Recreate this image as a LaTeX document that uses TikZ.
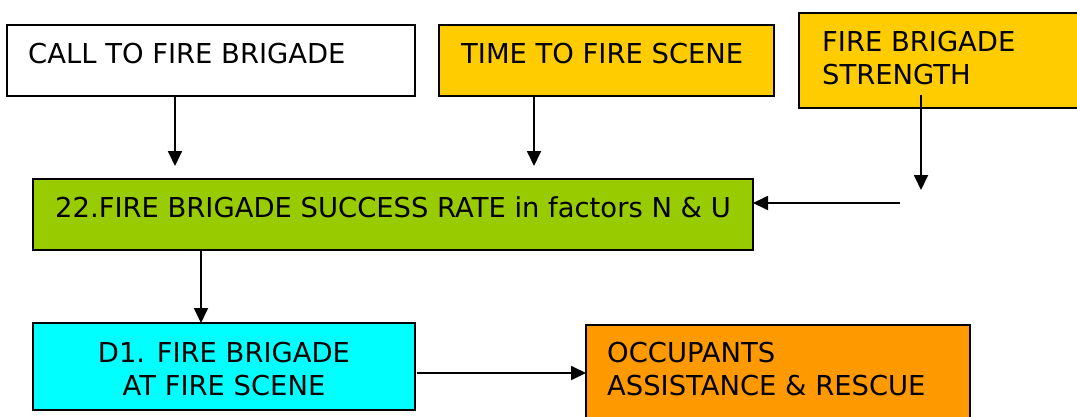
\documentclass[tikz,border=0pt]{standalone}
\usepackage{fontspec}
\setmainfont{DejaVu Sans}
\usetikzlibrary{arrows.meta}
\definecolor{amber}{HTML}{FFCC00}
\definecolor{lime}{HTML}{99CC00}
\definecolor{aqua}{HTML}{00FFFF}
\definecolor{tangerine}{HTML}{FF9900}
\begin{document}
\begin{tikzpicture}[x=1pt,y=-1pt,
  box/.style={draw=black,line width=2pt,inner sep=0pt,outer sep=0pt},
  txt/.style={inner sep=0pt,anchor=base west,font=\fontsize{27.4}{33}\selectfont},
  flow/.style={line width=1.8pt,-{Triangle[length=15pt,width=14pt]}}]
\useasboundingbox (0,0) rectangle (1077,416);
% boxes
\path[box,fill=white]     (7,25)   rectangle (415,96)  coordinate[pos=.5] (a);
\path[box,fill=amber]     (439,25) rectangle (774,96)  coordinate[pos=.5] (b);
\path[box,fill=amber]     (799,13) rectangle (1090,108) coordinate[pos=.5] (c);
\path[box,fill=lime]      (33,179) rectangle (753,250) coordinate[pos=.5] (d);
\path[box,fill=aqua]      (33,323) rectangle (415,410) coordinate[pos=.5] (e);
\path[box,fill=tangerine] (586,325) rectangle (970,430) coordinate[pos=.5] (f);
% labels
\node[txt] (at) at (28,63)  {CALL TO FIRE BRIGADE};
\node[txt] (bt) at (461,63) {TIME TO FIRE SCENE};
\node[txt,align=left,anchor=north west] (ct) at (822,31) {FIRE BRIGADE\\STRENGTH};
\node[txt] (dt) at (55,217) {22.FIRE BRIGADE SUCCESS RATE in factors N \& U};
\node[txt,align=center,anchor=north] (et) at (224,342) {D1. FIRE BRIGADE\\AT FIRE SCENE};
\node[txt,align=left,anchor=north west] (ft) at (607,342) {OCCUPANTS\\ASSISTANCE \& RESCUE};
% connector end points
\coordinate (a1) at (175,96);  \coordinate (a2) at (175,166);
\coordinate (b1) at (534,96);  \coordinate (b2) at (534,166);
\coordinate (c1) at (921,95);  \coordinate (c2) at (921,190);
\coordinate (h1) at (900,203); \coordinate (h2) at (753,203);
\coordinate (d1) at (201,250); \coordinate (d2) at (201,323);
\coordinate (e1) at (417,373); \coordinate (e2) at (586,373);
% connectors
\draw[flow] (a1) -- (a2);
\draw[flow] (b1) -- (b2);
\draw[flow] (c1) -- (c2);
\draw[flow] (h1) -- (h2);
\draw[flow] (d1) -- (d2);
\draw[flow] (e1) -- (e2);
\end{tikzpicture}
\end{document}
